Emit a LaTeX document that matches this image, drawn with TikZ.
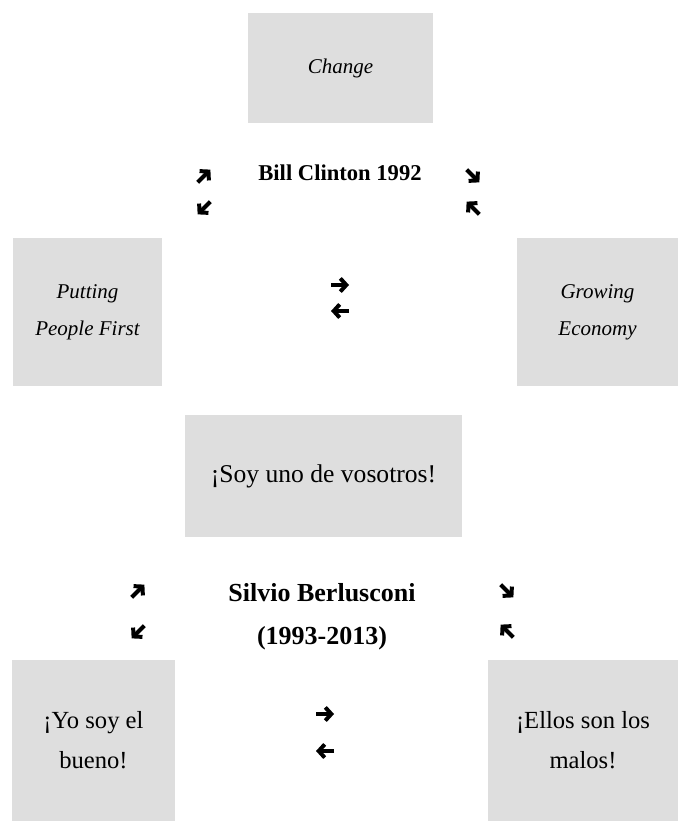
\documentclass[tikz,border=0pt]{standalone}
\usepackage{fontspec}
\setmainfont{Liberation Serif}
\usetikzlibrary{arrows.meta}
\definecolor{boxgray}{RGB}{222,222,222}

\begin{document}
\begin{tikzpicture}[x=0.5pt,y=-0.5pt,
  block/.style={rectangle,fill=boxgray,inner sep=0pt,align=center},
  fat/.style={line width=2pt,-{Straight Barb[length=3pt,width=6.6pt]}}]
\def\rA{9}
\def\lA{18}
\useasboundingbox (0,0) rectangle (681,822);

% Clinton 1992
\path
(340.5,68) node [block,minimum width=92.5pt,minimum height=55pt,font=\itshape\fontsize{10.5}{18.5}\selectfont] (change) {Change}
(87.5,312) node [block,minimum width=74.5pt,minimum height=74pt,font=\itshape\fontsize{10.5}{18.5}\selectfont] (people) {Putting\\People First}
(597.5,312) node [block,minimum width=80.5pt,minimum height=74pt,font=\itshape\fontsize{10.5}{18.5}\selectfont] (economy) {Growing\\Economy}
(340,173) node [font=\bfseries\fontsize{11.3}{14}\selectfont] (clinton) {Bill Clinton 1992}
;

%\draw[help lines] (0,0) grid (681,822);
\draw[fat] (204,176) ++(135:\rA) -- ++(-45:\lA);
\draw[fat] (204,208) ++(-45:\rA) -- ++(135:\lA);
\draw[fat] (473,176) ++(-135:\rA) -- ++(45:\lA);
\draw[fat] (473,208) ++(45:\rA) -- ++(-135:\lA);
\draw[fat] (340,285) ++(180:\rA) -- ++(0:\lA);
\draw[fat] (340,311) ++(0:\rA) -- ++(180:\lA);

% Berlusconi
\path
(323.5,476) node [block,minimum width=138.5pt,minimum height=61pt,font=\fontsize{12.8}{20}\selectfont] (nosotros) {¡Soy uno de vosotros!}
(93.5,740) node [block,minimum width=81.5pt,minimum height=80.5pt,font=\fontsize{12.3}{20}\selectfont] (bueno) {¡Yo soy el\\bueno!}
(583,740) node [block,minimum width=95pt,minimum height=80.5pt,font=\fontsize{12.3}{20}\selectfont] (malos) {¡Ellos son los\\malos!}
(322,617) node [align=center,font=\bfseries\fontsize{13}{21.5}\selectfont] (silvio) {Silvio Berlusconi\\(1993-2013)}
;

\draw[fat] (138,591) ++(135:\rA) -- ++(-45:\lA);
\draw[fat] (138,632) ++(-45:\rA) -- ++(135:\lA);
\draw[fat] (507,591) ++(-135:\rA) -- ++(45:\lA);
\draw[fat] (507,631) ++(45:\rA) -- ++(-135:\lA);
\draw[fat] (325,714) ++(180:\rA) -- ++(0:\lA);
\draw[fat] (325,751) ++(0:\rA) -- ++(180:\lA);
\end{tikzpicture}
\end{document}
